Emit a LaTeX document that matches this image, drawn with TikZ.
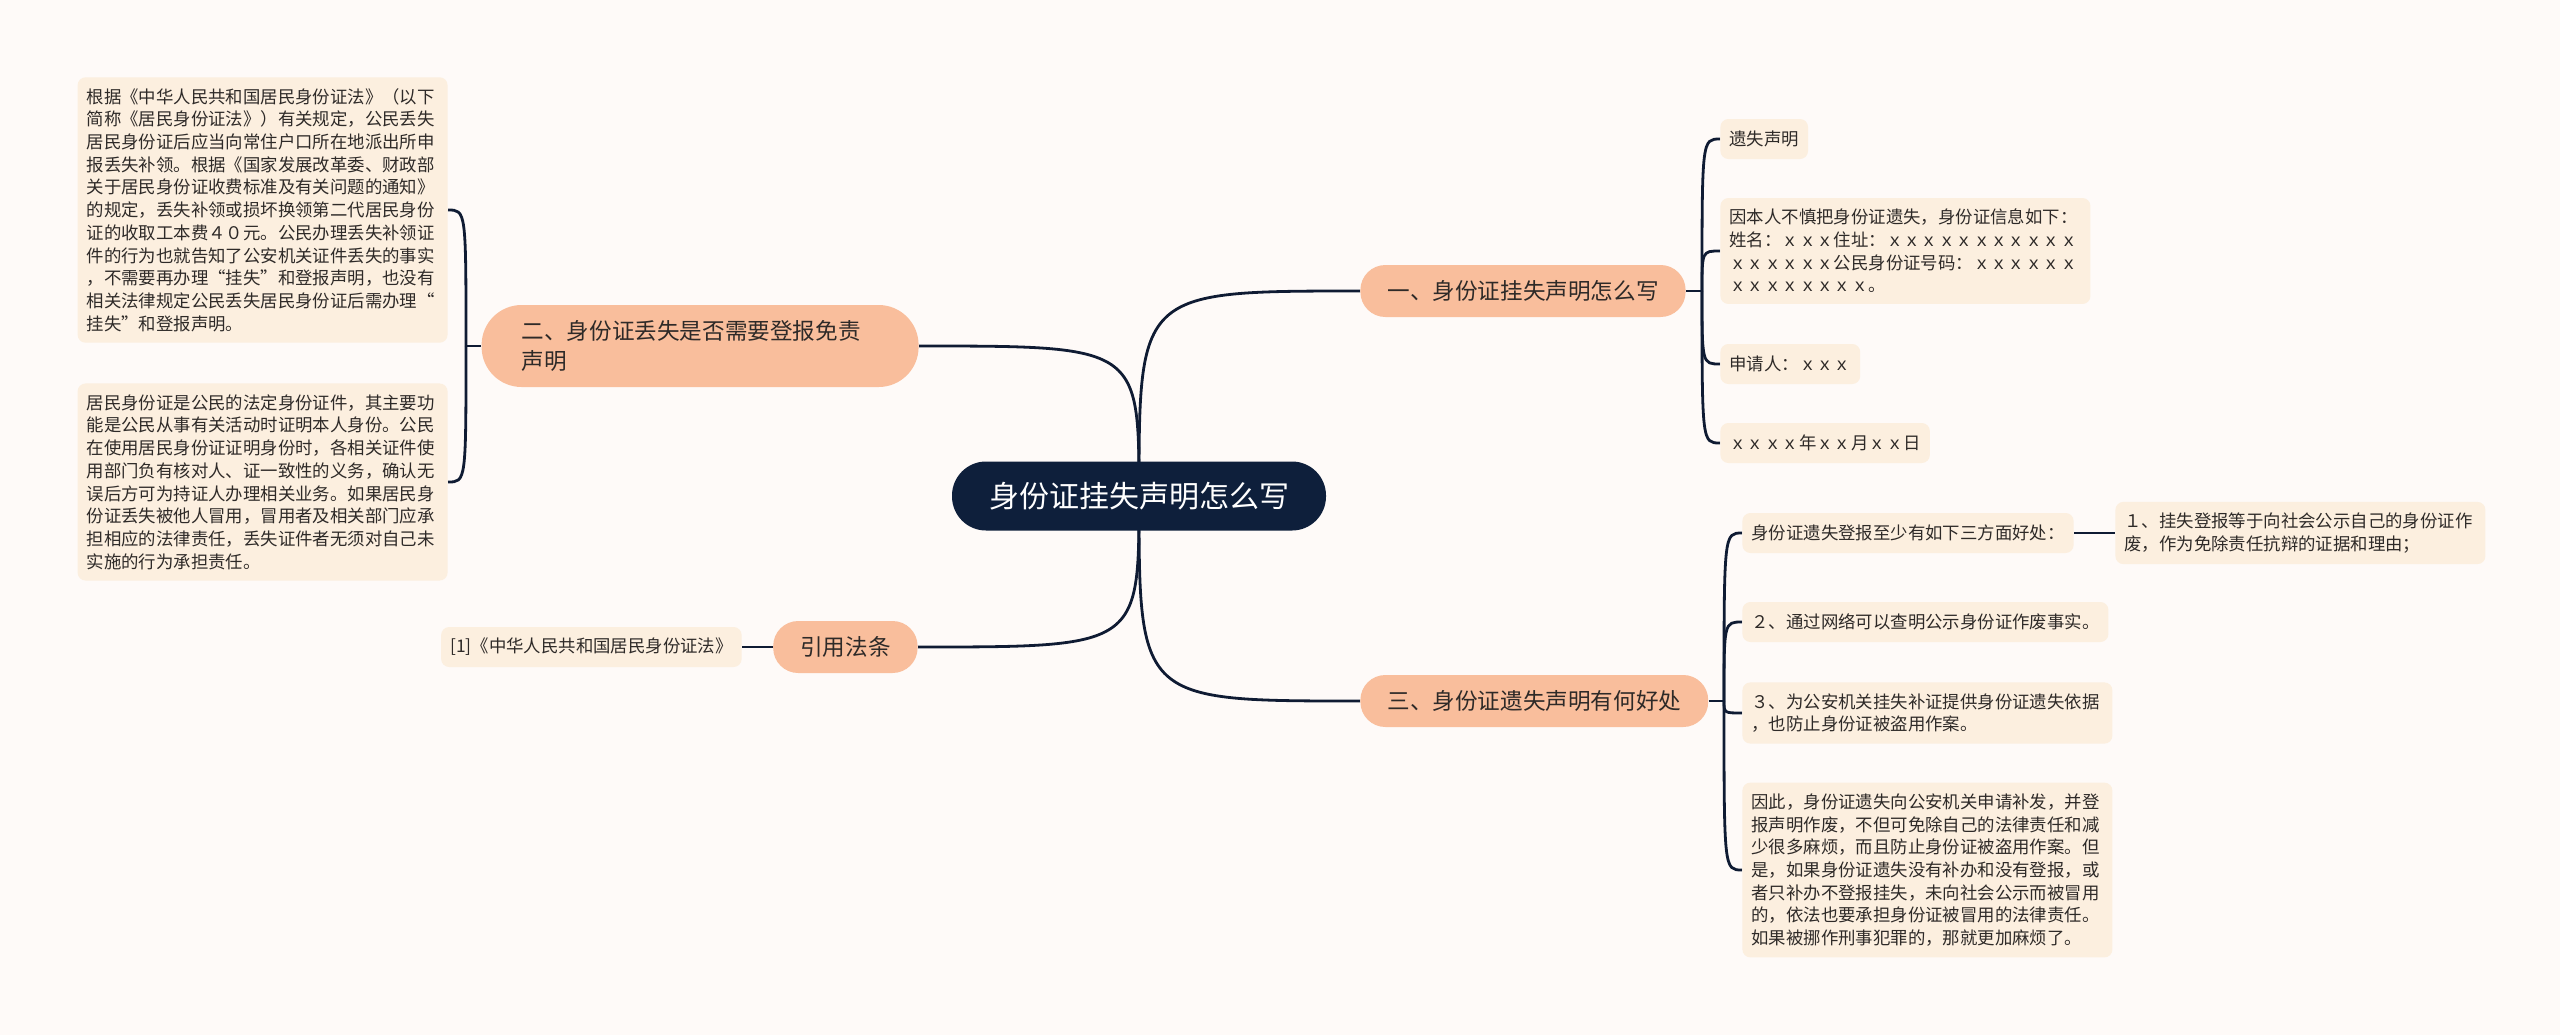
\documentclass[tikz,border=0pt]{standalone}
\usepackage{fontspec}
\setmainfont{Noto Sans CJK SC}
\usepackage{tikz}
\usetikzlibrary{backgrounds}
\definecolor{KBack}{HTML}{FEFAF8}
\definecolor{KRoot}{HTML}{0E1F3B}
\definecolor{KPeach}{HTML}{F9BE9C}
\definecolor{KCream}{HTML}{FCEFDF}
\definecolor{KLine}{HTML}{0F1B33}
\definecolor{KInk}{HTML}{2E2A28}
\tikzset{
  rootbox/.style={fill=KRoot,text=white,rounded corners=17pt,
                  minimum width=187pt,minimum height=34.5pt,
                  font=\fontsize{15pt}{18pt}\selectfont},
  branchbox/.style={fill=KPeach,text=KInk,rounded corners=12.5pt,
                    minimum height=26pt,inner xsep=13.5pt,
                    font=\fontsize{11.3pt}{15pt}\selectfont},
  leafbox/.style={fill=KCream,text=KInk,rounded corners=4pt,
                  inner xsep=4.5pt,inner ysep=5.5pt,minimum height=20pt,
                  align=left,font=\fontsize{8.7pt}{11.35pt}\selectfont},
  wideleaf/.style={leafbox,text width=176pt},
  link/.style={draw=KLine,line width=1.4pt},
}

\begin{document}
\begin{tikzpicture}[x=0.5pt,y=-0.5pt]
  \useasboundingbox (0,0) rectangle (2560,1035);

  % centre and main branches
  \node[rootbox] (root) at (1139,496) {身份证挂失声明怎么写};
  \node[branchbox,anchor=west] (b1) at (1360,291) {一、身份证挂失声明怎么写};
  \node[branchbox,anchor=east,text width=178.5pt,align=left,inner xsep=20pt,
        minimum height=41pt,rounded corners=20pt] (b2) at (919,346)
        {二、身份证丢失是否需要登报免责\\声明};
  \node[branchbox,anchor=west] (b3) at (1360,701) {三、身份证遗失声明有何好处};
  \node[branchbox,anchor=east] (b4) at (918,647) {引用法条};

  % branch 1
  \node[leafbox,anchor=west] (l11) at (1720,139) {遗失声明};
  \node[wideleaf,anchor=west] (l12) at (1720,251) {%
    因本人不慎把身份证遗失，身份证信息如下：\\
    姓名：ｘｘｘ住址：ｘｘｘｘｘｘｘｘｘｘｘ\\
    ｘｘｘｘｘｘ公民身份证号码：ｘｘｘｘｘｘ\\
    ｘｘｘｘｘｘｘｘ。};
  \node[leafbox,anchor=west] (l13) at (1720,364) {申请人：ｘｘｘ};
  \node[leafbox,anchor=west] (l14) at (1720,443) {ｘｘｘｘ年ｘｘ月ｘｘ日};

  % branch 2
  \node[wideleaf,anchor=east] (l21) at (448,210) {%
    根据《中华人民共和国居民身份证法》（以下\\
    简称《居民身份证法》）有关规定，公民丢失\\
    居民身份证后应当向常住户口所在地派出所申\\
    报丢失补领。根据《国家发展改革委、财政部\\
    关于居民身份证收费标准及有关问题的通知》\\
    的规定，丢失补领或损坏换领第二代居民身份\\
    证的收取工本费４０元。公民办理丢失补领证\\
    件的行为也就告知了公安机关证件丢失的事实\\
    ，不需要再办理“挂失”和登报声明，也没有\\
    相关法律规定公民丢失居民身份证后需办理“\\
    挂失”和登报声明。};
  \node[wideleaf,anchor=east] (l22) at (448,482) {%
    居民身份证是公民的法定身份证件，其主要功\\
    能是公民从事有关活动时证明本人身份。公民\\
    在使用居民身份证证明身份时，各相关证件使\\
    用部门负有核对人、证一致性的义务，确认无\\
    误后方可为持证人办理相关业务。如果居民身\\
    份证丢失被他人冒用，冒用者及相关部门应承\\
    担相应的法律责任，丢失证件者无须对自己未\\
    实施的行为承担责任。};

  % branch 3
  \node[leafbox,anchor=west] (l31) at (1742,533) {身份证遗失登报至少有如下三方面好处：};
  \node[wideleaf,anchor=west] (l311) at (2115,533) {%
    １、挂失登报等于向社会公示自己的身份证作\\
    废，作为免除责任抗辩的证据和理由；};
  \node[leafbox,anchor=west] (l32) at (1742,622) {２、通过网络可以查明公示身份证作废事实。};
  \node[wideleaf,anchor=west] (l33) at (1742,713) {%
    ３、为公安机关挂失补证提供身份证遗失依据\\
    ，也防止身份证被盗用作案。};
  \node[wideleaf,anchor=west] (l34) at (1742,870) {%
    因此，身份证遗失向公安机关申请补发，并登\\
    报声明作废，不但可免除自己的法律责任和减\\
    少很多麻烦，而且防止身份证被盗用作案。但\\
    是，如果身份证遗失没有补办和没有登报，或\\
    者只补办不登报挂失，未向社会公示而被冒用\\
    的，依法也要承担身份证被冒用的法律责任。\\
    如果被挪作刑事犯罪的，那就更加麻烦了。};

  % branch 4
  \node[leafbox,anchor=east] (l41) at (742,647) {[1]《中华人民共和国居民身份证法》};

  \coordinate (j1) at (1702,291);
  \coordinate (j2) at (466,346);
  \coordinate (j3) at (1724,701);

  \begin{scope}[on background layer]
    \fill[KBack] (0,0) rectangle (2560,1035);
    \foreach \b in {b1,b3}
      \draw[link] (root.center) .. controls (root.center |- \b.west) .. (\b.west);
    \foreach \b in {b2,b4}
      \draw[link] (root.center) .. controls (root.center |- \b.east) .. (\b.east);
    \draw[link] (b1.east) -- (j1);
    \foreach \n in {l11,l12,l13,l14}
      \draw[link] (j1) .. controls (j1 |- \n.west) .. (\n.west);
    \draw[link] (b2.west) -- (j2);
    \foreach \n in {l21,l22}
      \draw[link] (j2) .. controls (j2 |- \n.east) .. (\n.east);
    \draw[link] (b3.east) -- (j3);
    \foreach \n in {l31,l32,l33,l34}
      \draw[link] (j3) .. controls (j3 |- \n.west) .. (\n.west);
    \draw[link] (l31.east) -- (l311.west);
    \draw[link] (b4.west) -- (l41.east);
  \end{scope}
\end{tikzpicture}
\end{document}
